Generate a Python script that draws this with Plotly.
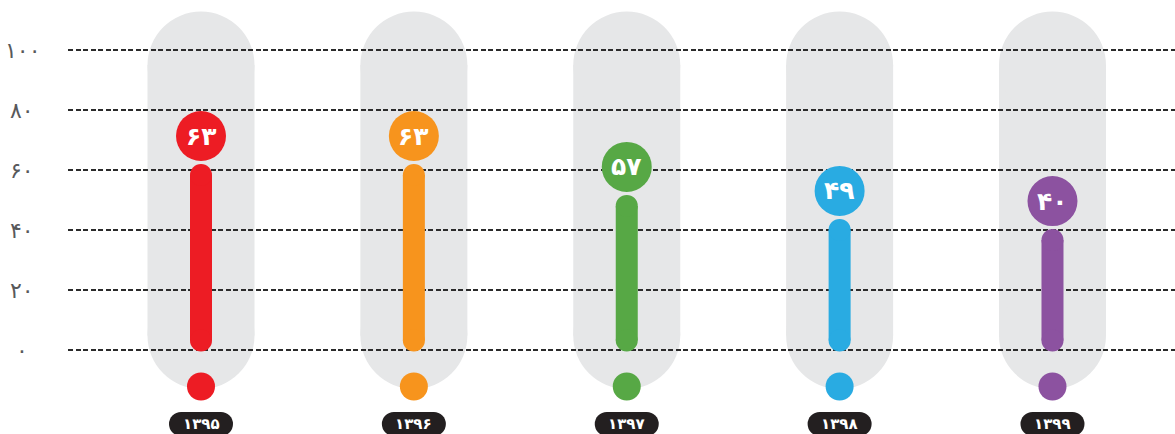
import plotly.graph_objects as go

# ---------------- data ----------------
years = ["۱۳۹۵", "۱۳۹۶", "۱۳۹۷", "۱۳۹۸", "۱۳۹۹"]
value_labels = ["۶۳", "۶۳", "۵۷", "۴۹", "۴۰"]
values = [63, 63, 57, 49, 40]
bar_levels = [62, 62, 51.7, 43.7, 40.3]   # bar heights as drawn in the picture
colors = ["#ed1c24", "#f7941d", "#57a845", "#29abe2", "#8c52a0"]
y_ticks = [0, 20, 40, 60, 80, 100]
y_tick_labels = ["۰", "۲۰", "۴۰", "۶۰", "۸۰", "۱۰۰"]

# ---------------- geometry / style ----------------
W, H = 1175, 434
ML, MR, MT, MB = 68, 0, 0, 0
PLOT_W = W - ML - MR
PLOT_H = H - MT - MB
X_RANGE = [-0.6248, 4.5755]
Y_RANGE = [-28, 116.667]
PXY = PLOT_H / (Y_RANGE[1] - Y_RANGE[0])  # pixels per data unit (y)

PILL_GREY = "#e6e7e8"
DARK = "#231f20"
FONT = "DejaVu Sans"


def py(pixel_offset):
    """convert a pixel distance on y into data units"""
    return pixel_offset / PXY


shapes = []
annotations = []
xs = list(range(len(years)))

for i, (lvl, col) in enumerate(zip(bar_levels, colors)):
    # grey background capsule
    top_tip, bot_tip, r = 112.8, -13.0, 53.5
    c_top, c_bot = top_tip - py(r), bot_tip + py(r)
    shapes.append(dict(type="rect", layer="below", xref="x", yref="y",
                       xsizemode="pixel", xanchor=i, x0=-r, x1=r,
                       y0=c_bot, y1=c_top, fillcolor=PILL_GREY, line_width=0))
    for c in (c_top, c_bot):
        shapes.append(dict(type="circle", layer="below", xref="x", yref="y",
                           xsizemode="pixel", ysizemode="pixel", xanchor=i, yanchor=c,
                           x0=-r, x1=r, y0=-r, y1=r, fillcolor=PILL_GREY, line_width=0))

    # bar with rounded ends
    br = 11
    b_lo, b_hi = -0.5 + py(br), lvl - py(br)
    shapes.append(dict(type="rect", layer="above", xref="x", yref="y",
                       xsizemode="pixel", xanchor=i, x0=-br, x1=br,
                       y0=b_lo, y1=b_hi, fillcolor=col, line_width=0))
    for c in (b_lo, b_hi):
        shapes.append(dict(type="circle", layer="above", xref="x", yref="y",
                           xsizemode="pixel", ysizemode="pixel", xanchor=i, yanchor=c,
                           x0=-br, x1=br, y0=-br, y1=br, fillcolor=col, line_width=0))

    # value circle on top
    cr = 25
    cy = lvl + py(28)
    shapes.append(dict(type="circle", layer="above", xref="x", yref="y",
                       xsizemode="pixel", ysizemode="pixel", xanchor=i, yanchor=cy,
                       x0=-cr, x1=cr, y0=-cr, y1=cr, fillcolor=col, line_width=0))
    annotations.append(dict(x=i, y=cy, xref="x", yref="y", text="<b>%s</b>" % value_labels[i],
                            showarrow=False, xanchor="center", yanchor="middle",
                            font=dict(family=FONT, size=25, color="white")))

    # bottom dot
    dr = 14
    shapes.append(dict(type="circle", layer="above", xref="x", yref="y",
                       xsizemode="pixel", ysizemode="pixel", xanchor=i, yanchor=py(350 - 386.5),
                       x0=-dr, x1=dr, y0=-dr, y1=dr, fillcolor=col, line_width=0))

    # year pill
    yc = py(350 - 424)
    pr, half = 12, 20
    shapes.append(dict(type="rect", layer="above", xref="x", yref="y",
                       xsizemode="pixel", ysizemode="pixel", xanchor=i, yanchor=yc,
                       x0=-half, x1=half, y0=-pr, y1=pr, fillcolor=DARK, line_width=0))
    for off in (-half, half):
        shapes.append(dict(type="circle", layer="above", xref="x", yref="y",
                           xsizemode="pixel", ysizemode="pixel", xanchor=i, yanchor=yc,
                           x0=off - pr, x1=off + pr, y0=-pr, y1=pr, fillcolor=DARK, line_width=0))
    annotations.append(dict(x=i, y=yc, xref="x", yref="y", text="<b>%s</b>" % years[i],
                            showarrow=False, xanchor="center", yanchor="middle",
                            font=dict(family=FONT, size=15, color="white")))

# y tick labels (centered, left of plot)
for v, t in zip(y_ticks, y_tick_labels):
    annotations.append(dict(x=(22 - ML) / PLOT_W, y=v, xref="paper", yref="y", text=t,
                            showarrow=False, xanchor="center", yanchor="middle",
                            font=dict(family=FONT, size=22, color="#58595b")))

fig = go.Figure()
# invisible trace to anchor the axes to the data positions
fig.add_trace(go.Scatter(x=xs, y=values, mode="markers", marker=dict(opacity=0),
                         hoverinfo="skip", showlegend=False))

fig.update_layout(
    width=W, height=H,
    margin=dict(l=ML, r=MR, t=MT, b=MB),
    paper_bgcolor="white", plot_bgcolor="white",
    shapes=shapes, annotations=annotations,
    showlegend=False,
    xaxis=dict(range=X_RANGE, showgrid=False, zeroline=False, showticklabels=False,
               showline=False, fixedrange=True),
    yaxis=dict(range=Y_RANGE, tickvals=y_ticks, showticklabels=False, zeroline=False,
               showgrid=True, gridcolor="#2b2b2b", gridwidth=1.5, griddash="5px,2.5px",
               showline=False, fixedrange=True),
)

fig.write_html("out.html", config={"displayModeBar": False},
               post_script="document.body.style.margin='0px';document.body.style.overflow='hidden';")
